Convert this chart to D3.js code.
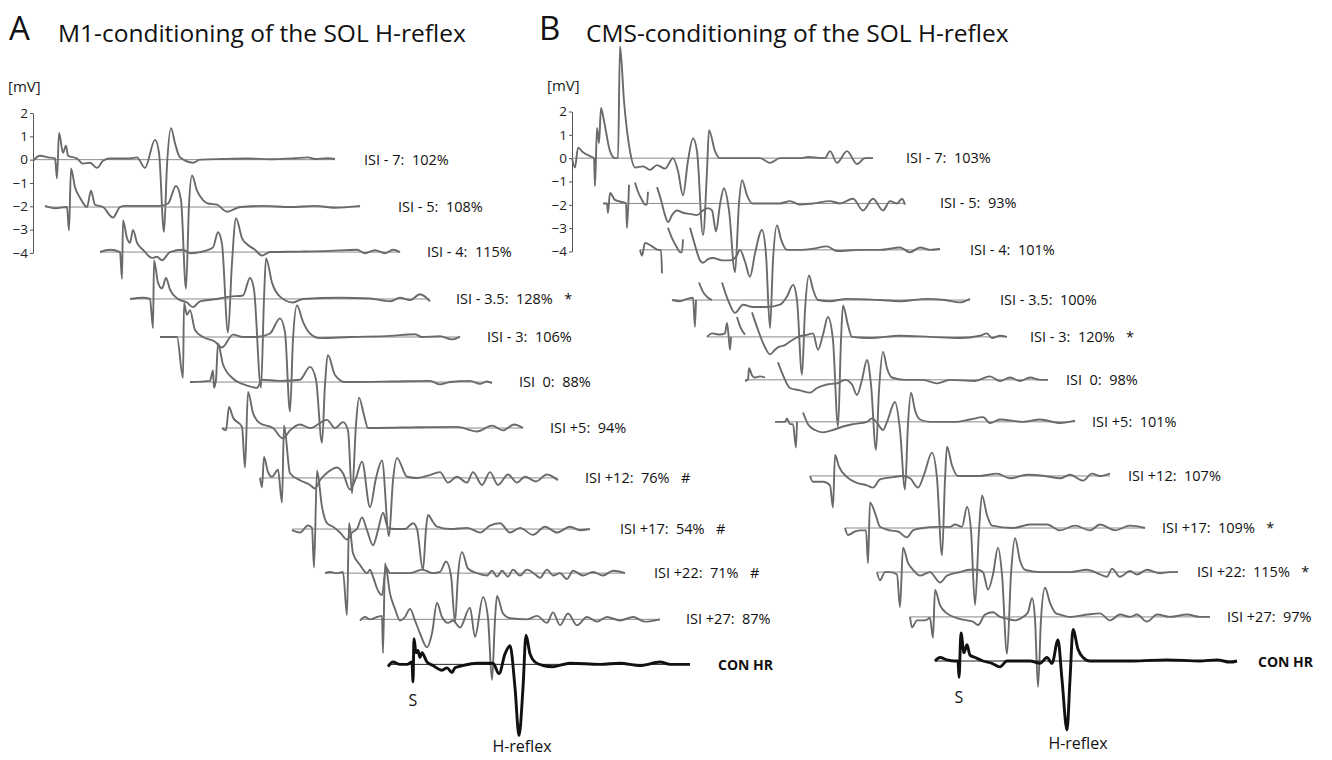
<!DOCTYPE html>
<html><head><meta charset="utf-8">
<script src="https://cdn.jsdelivr.net/npm/d3@7"></script>
<style>
html,body{margin:0;padding:0;background:#fff;}
text{font-family:"Open Sans","Noto Sans",sans-serif;white-space:pre;}
</style></head>
<body><svg id="chart" width="1332" height="760"></svg>
<script>
// ---------- DATA ----------
const titles = ["M1-conditioning of the SOL H-reflex", "CMS-conditioning of the SOL H-reflex"];
const panelLetters = ["A", "B"];
const yTicks = [2, 1, 0, -1, -2, -3, -4];
const isi = ["ISI - 7", "ISI - 5", "ISI - 4", "ISI - 3.5", "ISI - 3", "ISI  0", "ISI +5", "ISI +12", "ISI +17", "ISI +22", "ISI +27"];
const pctA = [102, 108, 115, 128, 106, 88, 94, 76, 54, 71, 87];
const markA = ["", "", "", "*", "", "", "", "#", "#", "#", ""];
const pctB = [103, 93, 101, 100, 120, 98, 101, 107, 109, 115, 97];
const markB = ["", "", "", "", "*", "", "", "", "*", "*", ""];
// trace onset (samples after the axis) and baseline offset (mV)
const startA = [0, 12, 67, 97, 127, 157, 189, 227, 259, 292, 329, 355];
const baseA = [0, -2.03, -3.96, -5.97, -7.6, -9.53, -11.5, -13.64, -15.83, -17.72, -19.7, -21.63];
const startB = [0, 31, 68, 100, 135, 173, 203, 238, 273, 305, 338, 363];
const baseB = [0, -1.94, -3.93, -6.08, -7.66, -9.5, -11.3, -13.62, -15.85, -17.74, -19.66, -21.55];

// waveforms: [sample, mV] relative to trace onset / baseline (null = gap)
const a1 = [[0,-0.05],[7,0.17],[15,0.1],[22,0.05],[24,-0.8],[26,1.15],[30,0.3],[33,0.6],[35,0.17],[44,0.05],[50,-0.17],[57,-0.13],[64,-0.35],[70,-0.05],[77,0.05],[97,0.05],[104,0.1],[112,-0.35],[122,0.85],[126,0.3],[131,-3.1],[134,-0.25],[138,1.35],[142,0.7],[147,0.1],[160,-0.13],[167,0],[190,0.03],[215,0.05],[240,0.02],[262,0.06],[275,0.1],[282,0.03],[295,0.06],[302,0.03]];
const a2 = [[0,0.05],[10,-0.05],[22,0],[24,-1.0],[26,1.65],[30,0.85],[35,0.4],[42,0],[46,0.7],[50,0.1],[58,0],[68,-0.45],[75,0],[80,0.05],[115,0.05],[123,0.15],[131,0.9],[136,0.3],[141,-3.5],[144,0.1],[147,1.35],[152,0.7],[158,0.3],[163,0.15],[172,0.1],[182,-0.2],[195,0],[220,0.05],[245,0],[270,0.05],[290,-0.03],[315,0.05]];
const a3 = [[0,0],[10,0.1],[20,0],[22,-1.15],[23,1.35],[27,0.6],[30,0.4],[33,0.95],[37,0.4],[43,0.1],[52,-0.25],[57,-0.2],[62,-0.35],[70,0],[83,0.1],[90,-0.05],[100,0],[113,0.2],[118,0.85],[122,0.35],[128,-3.45],[132,-0.45],[136,1.45],[142,0.6],[148,0.3],[155,0.1],[162,-0.15],[170,0],[200,0.02],[230,0.05],[257,0.1],[265,-0.05],[275,0.08],[285,-0.05],[293,0.1],[300,0]];
const a4 = [[0,0],[13,0.05],[20,0],[23,-1.25],[24,1.65],[28,0.7],[32,0.45],[36,0.9],[40,0.4],[48,0],[57,-0.15],[63,-0.35],[70,-0.1],[87,0],[100,0.1],[113,0.15],[120,0.9],[124,0.4],[131,-3.8],[134,0],[136,1.75],[142,0.7],[150,0.1],[163,-0.15],[173,0],[210,0.05],[240,0.02],[260,-0.1],[270,0.05],[280,-0.05],[290,0.2],[300,-0.1]];
const a5 = [[0,0],[17,0],[23,-1.75],[24,1.45],[27,0.95],[30,1.15],[35,0.3],[43,0],[55,-0.2],[62,-0.45],[73,0.1],[83,0],[97,0],[110,0.15],[120,0.8],[125,0.2],[130,-3.2],[133,-0.1],[137,1.35],[143,0.65],[150,0.15],[160,-0.05],[190,0],[230,0.05],[255,0.12],[262,0],[280,0.03],[292,-0.1],[300,0.02]];
const a6 = [[0,0],[20,0.05],[23,0.5],[24,-0.25],[26,0.1],[28,1.65],[33,0.75],[43,0.15],[57,-0.15],[67,-0.25],[72,0.1],[90,0.05],[110,0.1],[120,0.65],[126,0.1],[132,-2.6],[135,-0.1],[138,1.15],[145,0.3],[155,0],[200,0.02],[240,0.05],[250,-0.1],[260,0],[280,0.05],[290,-0.08],[297,0.02],[302,-0.05]];
const a7 = [[0,0],[4,-0.1],[7,0.9],[11,0.45],[20,0.05],[23,-1.7],[26,1.55],[31,0.65],[38,0.2],[51,0],[61,-0.45],[68,-0.1],[78,0.15],[88,0],[105,0.35],[113,0],[121,0.25],[126,-0.1],[130,-2.8],[134,0.15],[137,1.3],[142,0.55],[146,0],[180,0.02],[235,0.05],[255,-0.15],[270,0.1],[281,-0.1],[292,0.15],[301,0]];
const a8 = [[0,0],[2,-0.4],[4,0.9],[8,0.25],[12,0.05],[18,0.35],[22,-1.05],[24,2.25],[30,0.2],[40,-0.1],[50,-0.3],[55,-0.45],[60,-0.1],[68,0.25],[77,0.45],[83,0.2],[90,-0.5],[96,0],[102,0.7],[110,-1.25],[116,0],[122,0.75],[129,-2.5],[133,-0.1],[137,0.85],[147,0.05],[157,0],[168,0.1],[180,0.25],[188,-0.2],[197,0.05],[207,-0.2],[213,0.25],[222,-0.3],[230,0.25],[238,-0.3],[248,0.15],[257,-0.2],[265,0.05],[276,-0.15],[287,0.15],[298,-0.1]];
const a9 = [[0,-0.05],[8,-0.15],[16,0.15],[20,0.05],[22,-1.65],[25,2.5],[30,0.95],[35,0.25],[41,0.1],[48,-0.15],[55,-0.45],[60,-0.15],[65,0],[70,0.5],[75,-0.05],[81,-0.7],[86,-0.05],[91,0.7],[96,0.05],[103,0],[113,0],[121,0.25],[125,0],[131,-1.75],[134,0],[136,0.6],[141,0.3],[145,0.1],[158,0],[175,0.05],[188,-0.15],[198,0.15],[208,0.25],[218,-0.15],[228,0.05],[241,-0.25],[253,0.1],[265,-0.15],[278,0.1],[288,-0.05],[298,0]];
const a10 = [[0,0],[5,0.05],[12,0],[18,0.05],[22,-1.8],[24,2.15],[28,0.85],[35,0.35],[42,0],[45,0.15],[48,-0.15],[53,-0.75],[57,-0.95],[61,0.25],[65,0],[72,0],[85,0],[97,0.15],[108,0],[115,0.05],[121,0.5],[126,-0.1],[130,-2.1],[133,-0.1],[137,0.9],[143,0.2],[152,0],[162,-0.1],[167,0.1],[172,-0.15],[177,0.1],[183,-0.15],[188,0.15],[195,-0.1],[202,0.15],[210,-0.05],[215,-0.2],[222,0.15],[228,-0.1],[235,0],[242,-0.25],[248,0.1],[258,-0.1],[268,0.05],[278,-0.1],[288,0.1],[300,0]];
const a11 = [[-2,-0.05],[3,0.1],[8,0],[15,0.1],[20,0.15],[21,-1.45],[23,2.4],[28,1.1],[33,0.45],[38,-0.05],[43,0.1],[48,0.45],[53,-0.05],[58,-0.6],[65,-1.2],[70,-0.6],[75,0.7],[80,0.1],[86,-0.15],[91,-0.05],[98,-0.35],[108,0.5],[113,-0.75],[121,0.95],[126,0.05],[130,-2.6],[133,0],[135,1.0],[141,0.25],[148,0.05],[165,0],[175,0.15],[185,-0.15],[191,0.3],[198,-0.25],[206,0.25],[215,-0.25],[225,0.1],[235,-0.1],[245,0.1],[258,-0.05],[271,0.1],[283,-0.1],[298,0]];
const a12 = [[0,-0.1],[5,0.1],[12,0],[19,0],[24,0.1],[25,-0.75],[26,1.1],[28,0.5],[30,0.6],[32,0.3],[34,0.5],[39,0.1],[45,-0.05],[54,-0.25],[59,-0.15],[64,-0.35],[67,-0.15],[75,-0.05],[89,0.05],[99,0.05],[105,0.05],[111,-0.4],[117,0.45],[122,0.8],[127,-1.0],[131,-3.05],[135,-1.0],[138,1.25],[142,0.45],[147,0.1],[155,-0.05],[165,-0.1],[182,0.05],[212,0],[232,0.05],[252,-0.05],[272,0.1],[282,0],[302,0]];

const b1 = [[0,0],[3,-0.4],[6,0.45],[11,0.25],[20,0.05],[22,0],[23,-1.2],[25,1.3],[27,0.65],[29,2.15],[32,1.6],[38,0.3],[43,0],[46,0],[48,4.8],[52,2.45],[58,0.3],[63,-0.4],[71,-0.35],[78,-0.5],[85,-0.3],[93,-0.45],[101,0],[106,-0.55],[111,-1.6],[116,-0.1],[121,0.85],[125,0.3],[131,-3.3],[135,-0.55],[137,1.2],[143,0.3],[148,0],[168,0],[188,0],[193,-0.1],[198,-0.2],[208,0],[228,0],[236,0.05],[253,0],[258,0.3],[265,-0.2],[275,0.3],[285,-0.25],[293,0],[301,0]];
const b2 = [[0,0],[4,0],[5,-0.4],[7,0.45],[12,0.15],[20,0.05],[23,0],[24,-1.05],[26,0.8],[28,null],[32,0.9],[35,0.5],[39,0.15],[42,-0.05],[44,-0.05],[45,0.5],[47,null],[54,0.7],[58,0.15],[62,-0.5],[65,-0.8],[69,-0.5],[74,-0.3],[80,-0.4],[87,-0.45],[94,-0.5],[100,-0.3],[105,-0.2],[109,-0.3],[113,-1.2],[117,-0.05],[121,0.65],[126,-0.3],[132,-2.95],[136,0],[139,1.0],[144,0.35],[149,0],[157,0],[177,0],[187,0.1],[197,-0.05],[210,0],[227,0.1],[237,0],[250,0.2],[260,-0.3],[270,0.2],[280,-0.3],[287,0.1],[294,0],[299,0.2],[302,-0.05]];
const b3 = [[0,0],[2,-0.25],[5,0.3],[12,0.15],[18,0],[21,0],[22,-1.0],[24,null],[28,0.95],[32,0.5],[37,0.1],[40,-0.1],[42,-0.1],[43,0.45],[45,null],[50,0.95],[55,0.2],[60,-0.45],[63,-0.55],[68,-0.4],[73,-0.35],[82,-0.45],[90,-0.45],[96,-0.3],[100,0],[105,-0.5],[110,-1.15],[115,-0.15],[122,0.85],[126,-0.2],[130,-3.35],[133,-0.45],[137,1.05],[141,0.45],[147,0],[160,0],[173,0.05],[187,0.15],[197,-0.05],[220,0],[240,0],[260,0.1],[270,-0.1],[280,0.1],[290,0],[300,0.05]];
const b4 = [[0,0],[8,-0.05],[15,0.05],[21,0.1],[23,-1.15],[24,0],[25,null],[27,0.75],[31,0.35],[36,0.1],[40,0],[42,null],[50,0.75],[56,0],[63,-0.55],[71,-0.2],[81,-0.3],[95,-0.3],[108,-0.2],[115,0.15],[121,0.65],[125,0],[130,-3.2],[133,-0.45],[137,1.05],[141,0.45],[146,0],[158,-0.05],[175,0.05],[208,0],[228,-0.05],[255,0.05],[273,0],[288,-0.1],[298,0.05]];
const b5 = [[0,0],[5,0.15],[13,0.1],[18,0.15],[20,0.6],[22,-0.15],[23,-0.55],[24,0],[25,null],[30,0.85],[33,0.45],[38,0.1],[40,null],[45,1.05],[51,0.3],[57,-0.35],[63,-0.75],[68,-0.55],[71,-0.45],[78,-0.35],[83,-0.2],[91,0],[101,0.1],[106,0.15],[111,-0.55],[116,0.1],[121,0.85],[126,-0.15],[131,-3.85],[134,-0.15],[136,1.35],[141,0.5],[145,0],[163,-0.05],[193,0.05],[223,0],[253,-0.05],[273,0.05],[280,0.15],[285,-0.05],[293,0.05],[300,0]];
const b6 = [[0,-0.05],[3,0],[4,0.5],[7,0.2],[10,0.1],[15,0.15],[20,0.1],[22,null],[33,0.75],[38,0.2],[45,-0.35],[55,-0.45],[65,-0.55],[72,-0.35],[82,-0.2],[92,-0.15],[100,0],[107,-0.2],[112,-0.65],[117,0],[122,0.85],[126,-0.2],[131,-3.0],[134,-0.45],[138,1.2],[142,0.5],[147,0.1],[160,0],[178,0],[192,-0.15],[205,0],[230,-0.05],[245,0.15],[255,-0.05],[265,0.1],[275,-0.05],[285,0.1],[295,0],[303,0]];
const b7 = [[0,0],[10,0],[12,0.15],[15,-0.1],[18,-0.1],[21,-1.1],[22,0],[23,null],[28,0.4],[33,-0.1],[40,-0.35],[48,-0.45],[58,-0.35],[68,-0.2],[78,-0.1],[92,0],[97,0.15],[103,-0.1],[108,-0.35],[112,0],[120,0.85],[125,-0.35],[130,-2.9],[133,-0.1],[136,1.25],[140,0.5],[145,0.1],[155,0],[182,0],[195,0.1],[208,0.2],[215,-0.05],[225,0.1],[248,0],[265,0.1],[285,-0.05],[300,0.05]];
const b8 = [[0,0],[3,-0.25],[13,-0.25],[20,-0.4],[23,-1.35],[25,0.9],[29,0.4],[37,-0.05],[47,-0.3],[57,-0.4],[63,-0.5],[70,-0.15],[83,-0.05],[92,0],[100,-0.1],[108,-0.5],[114,0.05],[122,1.0],[127,-0.1],[132,-3.4],[135,-0.15],[137,1.25],[142,0.45],[148,0],[170,0],[187,0.1],[200,-0.1],[217,0.05],[235,0],[250,-0.1],[260,0.05],[273,-0.2],[282,0.1],[290,0],[300,0.1]];
const b9 = [[0,0],[3,-0.3],[10,-0.15],[15,-0.1],[21,-0.1],[23,-1.5],[25,1.1],[30,0.65],[35,0.05],[45,-0.1],[53,-0.15],[62,-0.4],[68,-0.1],[78,0],[92,0.05],[105,0.05],[110,0.15],[117,0.05],[122,0.9],[126,-0.1],[130,-3.3],[134,-0.1],[137,1.4],[142,0.55],[147,0.1],[168,0],[185,0.15],[202,0.15],[215,-0.1],[230,0.1],[245,-0.1],[255,0.15],[270,-0.1],[285,0.1],[300,0]];
const b10 = [[0,0],[3,-0.35],[8,0],[13,0],[20,-0.1],[23,-1.5],[26,1.05],[31,0.4],[36,0.1],[43,-0.15],[53,0],[63,-0.45],[70,-0.15],[83,0],[93,0.1],[101,0.1],[106,0],[111,-0.75],[116,-0.1],[121,1.05],[125,-0.1],[130,-3.5],[134,-0.1],[138,1.45],[143,0.5],[148,0.1],[163,0],[193,0],[210,0.1],[223,-0.1],[230,-0.2],[235,0.15],[243,-0.2],[253,0.05],[260,-0.1],[270,0.1],[283,-0.05],[293,0],[301,0]];
const b11 = [[0,0],[2,-0.45],[7,-0.15],[15,-0.15],[20,-0.05],[23,-0.9],[25,1.15],[30,0.5],[37,0.15],[47,-0.05],[57,-0.15],[63,-0.2],[68,-0.35],[75,0.1],[83,0.2],[90,0],[95,-0.05],[105,-0.15],[113,0],[118,0.2],[122,0.8],[125,-0.1],[128,-3.0],[131,-0.1],[135,1.25],[140,0.6],[146,0.15],[150,0.1],[160,0],[177,0.1],[190,0.15],[200,-0.15],[210,0.1],[220,0],[227,0.1],[237,-0.2],[247,0.1],[260,0],[277,0.1],[290,0],[300,0]];
const b12 = [[0,0],[5,0.15],[12,0.05],[20,0],[23,0],[24,-0.7],[26,1.2],[29,0.35],[32,0.7],[35,0.25],[40,0.15],[48,0],[57,-0.1],[65,-0.25],[72,0],[80,0],[95,0],[105,-0.1],[112,0.15],[117,-0.1],[123,0.9],[127,-0.8],[132,-2.95],[135,-0.8],[138,1.35],[143,0.5],[148,0.15],[155,0],[165,0],[198,0],[232,0.05],[265,0],[282,0.05],[295,-0.05],[302,0]];

const wavesA = [a1,a2,a3,a4,a5,a6,a7,a8,a9,a10,a11,a12];
const wavesB = [b1,b2,b3,b4,b5,b6,b7,b8,b9,b10,b11,b12];

// ---------- LAYOUT ----------
const labelAtA = [331, 365, 394, 423, 454, 486, 517, 552, 587, 621, 653, 685];
const labelAtB = [334, 368, 398, 428, 458, 494, 520, 556, 590, 625, 655, 686];

const svg = d3.select("#chart");
svg.append("rect").attr("width",1332).attr("height",760).attr("fill","#fff");

function panel(opts){
  const {x0, yTop, letterX, titleX, title, letter, starts, bases, waves, pcts, marks, labelAt, sX, hX} = opts;
  const x = d3.scaleLinear().domain([0, 700]).range([x0, x0 + 700]);
  const y = d3.scaleLinear().domain([2, -4]).range([yTop, yTop + 140]);
  const g = svg.append("g");

  g.append("text").attr("x", letterX).attr("y", 40).attr("font-size", 33).attr("fill", "#111").text(letter);
  g.append("text").attr("x", titleX).attr("y", 42).attr("font-size", 24.5).attr("fill", "#111").text(title);

  // axis
  const ax = g.append("g").attr("transform", `translate(${x(0)},0)`)
    .call(d3.axisLeft(y).tickValues(yTicks).tickSize(3).tickSizeOuter(0).tickPadding(2).tickFormat(d3.format("d")));
  ax.select(".domain").attr("stroke", "#555").attr("stroke-width", 1);
  ax.selectAll(".tick line").attr("stroke", "#555");
  ax.selectAll(".tick text").attr("font-size", 13.5).attr("fill", "#222")
    .attr("font-family", "'Open Sans','Noto Sans',sans-serif");
  g.append("text").attr("x", x(0) - 25).attr("y", yTop - 21).attr("font-size", 15).attr("fill", "#222").text("[mV]");

  waves.forEach((w, i) => {
    const st = starts[i], b = bases[i];
    const con = i === waves.length - 1;
    const tMin = d3.min(w, d => d[0]), tMax = d3.max(w, d => d[0]);
    // baseline reference
    g.append("line")
      .attr("x1", x(st + tMin)).attr("x2", x(st + tMax))
      .attr("y1", y(b)).attr("y2", y(b))
      .attr("stroke", con ? "#222" : "#8a8a8a").attr("stroke-width", 1);
    const line = d3.line()
      .defined(d => d[1] !== null)
      .x(d => x(st + d[0]))
      .y(d => y(b + d[1]))
      .curve(d3.curveMonotoneX);
    g.append("path").datum(w).attr("d", line)
      .attr("fill", "none")
      .attr("stroke", con ? "#111" : "#6a6a6a")
      .attr("stroke-width", con ? 2.9 : 1.9)
      .attr("stroke-linejoin", "round");
    const lx = x(labelAt[i]), ly = y(b) + 2;
    if (con) {
      g.append("text").attr("x", lx).attr("y", ly + 4).attr("font-size", 14).attr("font-weight", "bold").attr("fill", "#111").text("CON HR");
    } else {
      const t = isi[i] + ":  " + pcts[i] + "%" + (marks[i] ? "   " + marks[i] : "");
      g.append("text").attr("x", lx).attr("y", ly + 3).attr("font-size", 14.5).attr("fill", "#111").text(t);
    }
  });
  const lastB = bases[bases.length - 1];
  g.append("text").attr("x", sX).attr("y", y(lastB) + 42).attr("text-anchor", "middle").attr("font-size", 16).attr("fill", "#111").text("S");
  g.append("text").attr("x", hX).attr("y", y(lastB) + 88).attr("text-anchor", "middle").attr("font-size", 16).attr("fill", "#111").text("H-reflex");
}

panel({x0: 33, yTop: 113, letterX: 9, titleX: 58, title: titles[0], letter: panelLetters[0],
  starts: startA, bases: baseA, waves: wavesA, pcts: pctA, marks: markA, labelAt: labelAtA, sX: 413, hX: 522});
panel({x0: 572, yTop: 111.5, letterX: 539, titleX: 586, title: titles[1], letter: panelLetters[1],
  starts: startB, bases: baseB, waves: wavesB, pcts: pctB, marks: markB, labelAt: labelAtB, sX: 959, hX: 1078});
</script>
</body></html>
